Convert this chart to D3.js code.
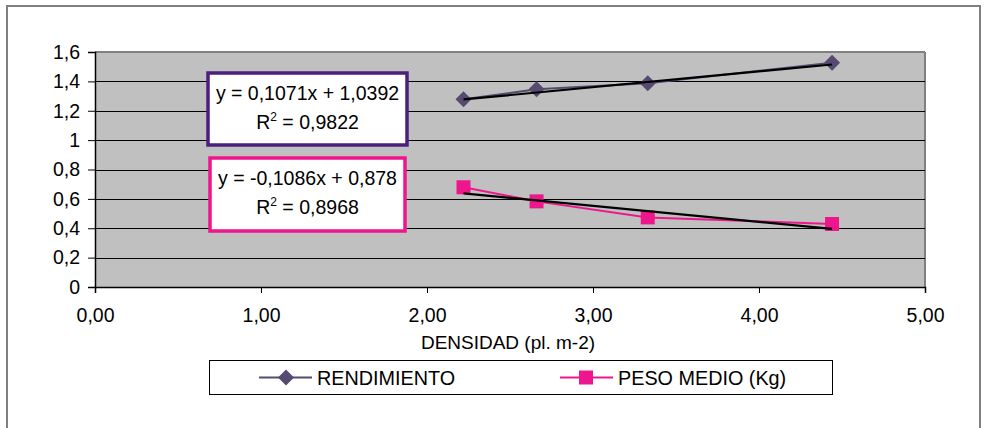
<!DOCTYPE html>
<html><head><meta charset="utf-8">
<script src="https://cdn.jsdelivr.net/npm/d3@7"></script>
<style>body{margin:0;background:#fff}svg{display:block;font-family:"Liberation Sans",Arial,sans-serif}</style>
</head><body><svg id="c" width="990" height="428"></svg>
<script>
const density = [2.22, 2.66, 3.33, 4.44];
const rendimiento = [1.278, 1.346, 1.387, 1.527];
const pesoMedio = [0.679, 0.583, 0.474, 0.429];
const trendRend = {slope: 0.1071, intercept: 1.0392, label: "y = 0,1071x + 1,0392", r2: "0,9822"};
const trendPeso = {slope: -0.1086, intercept: 0.878, label: "y = -0,1086x + 0,878", r2: "0,8968"};
const xTicks = [0, 1, 2, 3, 4, 5];
const yTicks = [0, 0.2, 0.4, 0.6, 0.8, 1, 1.2, 1.4, 1.6];
const seriesNames = ["RENDIMIENTO", "PESO MEDIO (Kg)"];

const svg = d3.select("#c");
const cRend = "#574a70", cPeso = "#ee168c";
const FS = 19.5;
const L = 95, R = 925, T = 52, B = 287;
const x = d3.scaleLinear().domain([0, 5]).range([L, R]);
const y = d3.scaleLinear().domain([0, 1.6]).range([B, T]);
const fmtX = v => d3.format(".2f")(v).replace(".", ",");
const fmtY = v => String(+v.toFixed(1)).replace(".", ",");

// outer frame
svg.append("rect").attr("x", 7).attr("y", 6).attr("width", 973).attr("height", 430)
  .attr("fill", "#fff").attr("stroke", "#808080").attr("stroke-width", 2);
// plot background
svg.append("rect").attr("x", L).attr("y", T).attr("width", R - L).attr("height", B - T)
  .attr("fill", "#c0c0c0");
svg.append("line").attr("x1", L).attr("x2", R).attr("y1", T).attr("y2", T).attr("stroke", "#808080").attr("stroke-width", 2);
svg.append("line").attr("x1", R).attr("x2", R).attr("y1", T).attr("y2", B).attr("stroke", "#808080").attr("stroke-width", 2);
// gridlines
svg.append("g").selectAll("line").data(yTicks.filter(v => v > 0 && v < 1.6)).join("line")
  .attr("x1", L).attr("x2", R).attr("y1", d => Math.round(y(d)) + 0.5).attr("y2", d => Math.round(y(d)) + 0.5)
  .attr("stroke", "#000").attr("stroke-width", 1);

// axes
const gy = svg.append("g").attr("transform", `translate(${L},0)`)
  .call(d3.axisLeft(y).tickValues(yTicks).tickFormat(fmtY).tickSize(7).tickPadding(8));
const gx = svg.append("g").attr("transform", `translate(0,${B})`)
  .call(d3.axisBottom(x).tickValues(xTicks).tickFormat(fmtX).tickSize(6).tickPadding(15));
[gy, gx].forEach(g => {
  g.attr("font-size", FS).attr("font-family", "Liberation Sans, Arial");
  g.selectAll("text").attr("fill", "#000");
  g.selectAll("line").attr("stroke", "#000");
  g.select(".domain").attr("stroke", "#000").attr("stroke-width", 1.5);
});

// axis title
svg.append("text").attr("x", 508).attr("y", 349).attr("text-anchor", "middle").attr("font-size", FS - 0.5)
  .text("DENSIDAD (pl. m-2)");

const line = d3.line().x(d => x(d[0])).y(d => y(d[1]));
const rendPts = density.map((d, i) => [d, rendimiento[i]]);
const pesoPts = density.map((d, i) => [d, pesoMedio[i]]);

svg.append("path").attr("d", line(rendPts)).attr("fill", "none").attr("stroke", cRend).attr("stroke-width", 2);
svg.append("path").attr("d", line(pesoPts)).attr("fill", "none").attr("stroke", cPeso).attr("stroke-width", 2);

const diamond = "M0,-8L8,0L0,8L-8,0Z";
svg.append("g").selectAll("path").data(rendPts).join("path")
  .attr("transform", d => `translate(${x(d[0])},${y(d[1])})`).attr("d", diamond).attr("fill", cRend);
svg.append("g").selectAll("rect").data(pesoPts).join("rect")
  .attr("x", d => x(d[0]) - 7).attr("y", d => y(d[1]) - 7).attr("width", 14).attr("height", 14).attr("fill", cPeso);

// trend lines
const xs = [d3.min(density), d3.max(density)];
[trendRend, trendPeso].forEach(t => {
  svg.append("path").attr("d", line(xs.map(v => [v, t.slope * v + t.intercept])))
    .attr("fill", "none").attr("stroke", "#000").attr("stroke-width", 2.2);
});

// equation boxes
function eqBox(t, bx, by, bw, bh, col) {
  svg.append("rect").attr("x", bx).attr("y", by).attr("width", bw).attr("height", bh)
    .attr("fill", "#fff").attr("stroke", col).attr("stroke-width", 3.5);
  const cx = bx + bw / 2;
  svg.append("text").attr("x", cx).attr("y", by + 27).attr("text-anchor", "middle").attr("font-size", FS).text(t.label);
  const tx = svg.append("text").attr("x", cx).attr("y", by + 56).attr("text-anchor", "middle").attr("font-size", FS);
  tx.append("tspan").text("R");
  tx.append("tspan").attr("font-size", 12).attr("dy", -8).text("2");
  tx.append("tspan").attr("dy", 8).text(" = " + t.r2);
}
eqBox(trendRend, 208, 73, 199, 72, "#4b1f7f");
eqBox(trendPeso, 210, 158, 195, 73, "#ee168c");

// legend
svg.append("rect").attr("x", 209.5).attr("y", 360.5).attr("width", 623).attr("height", 34)
  .attr("fill", "#fff").attr("stroke", "#000").attr("stroke-width", 1);
const leg = [{name: seriesNames[0], col: cRend, x0: 259, m: "d"}, {name: seriesNames[1], col: cPeso, x0: 560, m: "s"}];
leg.forEach(l => {
  svg.append("line").attr("x1", l.x0).attr("x2", l.x0 + 53).attr("y1", 377.5).attr("y2", 377.5).attr("stroke", l.col).attr("stroke-width", 2);
  if (l.m === "d") svg.append("path").attr("transform", `translate(${l.x0 + 27},377.5)`).attr("d", diamond).attr("fill", l.col);
  else svg.append("rect").attr("x", l.x0 + 19).attr("y", 370.5).attr("width", 14).attr("height", 14).attr("fill", l.col);
  svg.append("text").attr("x", l.x0 + 58).attr("y", 384.5).attr("font-size", FS + 0.3).text(l.name);
});
</script></body></html>
